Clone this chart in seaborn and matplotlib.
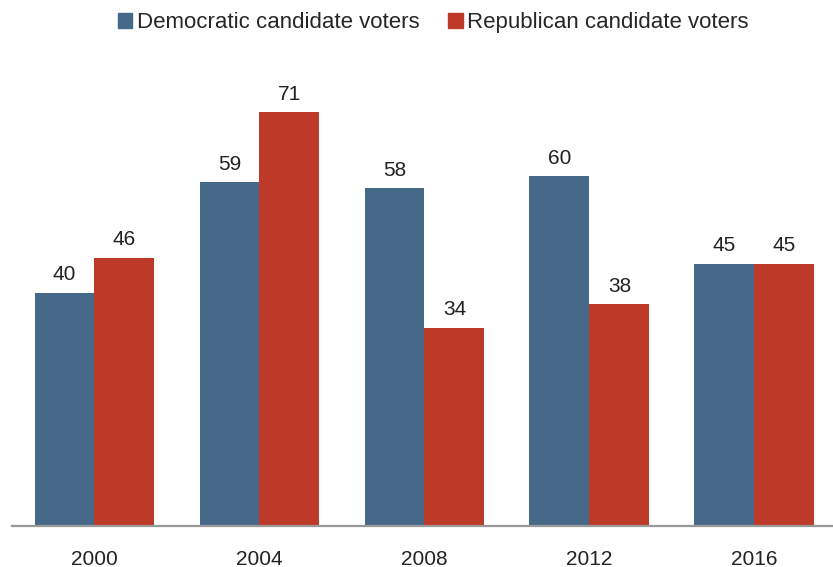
import pandas as pd
import matplotlib.pyplot as plt
import seaborn as sns
from matplotlib.patches import Patch

years = ["2000", "2004", "2008", "2012", "2016"]
dem = [40, 59, 58, 60, 45]
rep = [46, 71, 34, 38, 45]
series = ["Democratic candidate voters", "Republican candidate voters"]

df = pd.DataFrame({
    "year": years * 2,
    "pct": dem + rep,
    "who": [series[0]] * len(years) + [series[1]] * len(years),
})

sns.set_style("white")
plt.rcParams['font.family'] = ['Liberation Sans', 'DejaVu Sans']

fig = plt.figure(figsize=(8.33, 5.67), dpi=100)
ax = fig.add_axes([12 / 833, 41 / 567, 821 / 833, 476 / 567])

sns.barplot(data=df, x="year", y="pct", hue="who", order=years,
            palette=["#46698a", "#bd3a28"], width=0.727, saturation=1,
            ax=ax, legend=False)

for cont in ax.containers:
    for bar in cont:
        bar.set_edgecolor("none")
    ax.bar_label(cont, fmt="%d", padding=6, fontsize=15, color="#222222")

ax.set_xlim(-0.5, 4.476)
ax.set_ylim(0, 476 / 5.83)
ax.set_xlabel("")
ax.set_ylabel("")
ax.set_yticks([])
for s in ["top", "left", "right"]:
    ax.spines[s].set_visible(False)
ax.spines["bottom"].set_color("#999999")
ax.spines["bottom"].set_linewidth(1.6)
ax.tick_params(axis="x", length=0, labelsize=15, pad=17, colors="#222222")

# legend at top
handles = [Patch(color="#46698a"), Patch(color="#bd3a28")]
fig.legend(handles, series, loc="center", bbox_to_anchor=(0.52, 0.96),
           ncol=2, frameon=False, fontsize=16, handlelength=0.65,
           handleheight=0.65, handletextpad=0.2, columnspacing=1.3)

plt.savefig("out.png", dpi=100)
